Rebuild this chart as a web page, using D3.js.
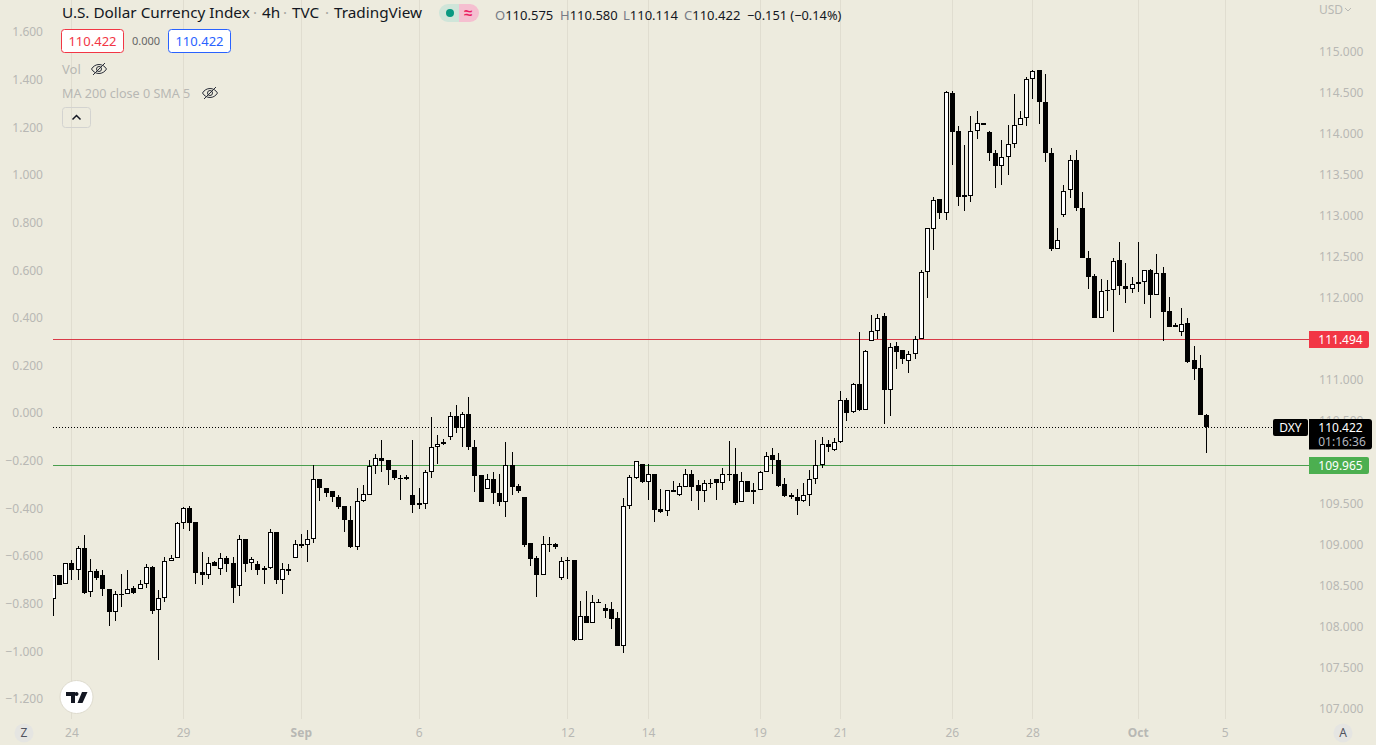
<!DOCTYPE html>
<html>
<head>
<meta charset="utf-8">
<script src="https://cdn.jsdelivr.net/npm/d3@7"></script>
<style>
    html, body { margin: 0; padding: 0; background: #edebde; overflow: hidden; }
    text { font-family: "Noto Sans", sans-serif; }
</style>
</head>
<body>
<div id="chart"></div>
<script>
// OHLC candles, 4h bars
var opens = [
    108.33,108.62,108.51,108.77,108.69,108.95,108.42,108.67,108.62,108.45,
    108.17,108.40,108.40,108.47,108.46,108.52,108.72,108.20,108.35,108.80,
    108.83,109.26,109.44,109.27,108.66,108.63,108.78,108.70,108.83,108.77,
    108.49,109.06,108.77,108.76,108.71,108.71,109.15,108.57,108.70,108.83,
    109.00,108.99,109.06,109.79,109.69,109.65,109.58,109.46,109.29,108.97,
    109.53,109.60,109.95,110.05,110.02,109.90,109.81,109.82,109.60,109.50,
    109.49,109.88,110.19,110.22,110.31,110.56,110.41,110.59,110.19,109.84,
    109.67,109.79,109.63,109.52,109.97,109.71,109.57,109.01,108.83,108.62,
    109.00,109.00,108.59,108.81,108.81,107.83,108.13,108.04,108.30,108.22,
    108.21,108.10,107.76,109.47,109.81,109.98,109.76,109.86,109.43,109.40,
    109.66,109.60,109.70,109.86,109.72,109.65,109.74,109.80,109.74,109.86,
    109.86,109.52,109.77,109.66,109.66,109.88,110.09,110.03,109.73,109.60,
    109.58,109.53,109.60,109.80,109.97,110.22,110.15,110.24,110.76,110.61,
    110.95,110.64,111.48,111.60,111.78,110.88,111.41,111.36,111.23,111.32,
    111.50,112.32,112.84,113.20,113.03,114.50,114.03,113.25,113.24,114.03,
    114.13,114.02,113.77,113.61,113.72,113.87,114.11,114.19,114.66,114.77,
    114.39,113.77,112.60,113.01,113.31,113.68,113.09,112.49,112.27,111.75,
    112.08,112.10,112.46,112.15,112.11,112.19,112.19,112.34,112.04,112.30,
    111.84,111.67,111.59,111.69,111.24,111.15,110.575
];
var highs = [
    108.62,108.62,108.77,108.81,108.98,109.11,108.82,108.70,108.69,108.46,
    108.43,108.64,108.69,108.49,108.57,108.76,108.73,108.44,108.84,108.87,
    109.27,109.45,109.47,109.27,108.91,108.85,108.79,108.89,108.86,108.84,
    109.11,109.06,108.84,108.79,108.74,109.19,109.15,108.77,108.76,109.05,
    109.13,109.17,109.97,109.79,109.69,109.65,109.60,109.46,109.46,109.69,
    109.72,110.03,110.10,110.27,110.03,109.91,109.84,109.84,110.27,109.68,
    109.90,110.55,110.33,110.28,110.61,110.70,110.61,110.79,110.27,109.84,
    109.86,109.88,109.86,110.24,110.12,109.73,109.57,109.02,108.86,109.10,
    109.09,109.02,108.85,108.84,108.81,108.31,108.43,108.38,108.33,108.27,
    108.30,108.18,109.56,109.84,110.01,109.98,109.98,109.86,109.67,109.66,
    109.77,109.75,109.92,109.91,109.78,109.78,109.79,109.80,109.93,110.26,
    110.17,109.88,109.77,109.75,109.89,110.12,110.17,110.11,109.81,109.62,
    109.67,109.74,109.90,110.27,110.30,110.27,110.29,110.86,110.78,110.96,
    111.58,111.37,111.79,111.80,111.81,111.45,111.46,111.36,111.35,111.53,
    112.34,112.85,113.23,113.20,114.52,114.52,114.09,113.86,114.22,114.28,
    114.13,114.03,113.80,113.92,114.10,114.48,114.27,114.69,114.77,114.78,
    114.73,113.82,112.85,113.37,113.74,113.80,113.29,112.57,112.29,112.23,
    112.22,112.49,112.68,112.42,112.25,112.68,112.34,112.35,112.54,112.37,
    112.01,111.69,111.88,111.75,111.42,111.31,110.58
];
var lows = [
    108.13,108.50,108.51,108.57,108.56,108.40,108.36,108.57,108.37,108.00,
    108.07,108.24,108.40,108.40,108.46,108.47,108.15,107.59,108.30,108.79,
    108.83,109.19,109.16,108.51,108.50,108.58,108.74,108.63,108.66,108.29,
    108.37,108.66,108.69,108.63,108.52,108.70,108.52,108.39,108.63,108.83,
    108.96,108.78,109.02,109.53,109.58,109.51,109.43,109.15,108.95,108.93,
    109.51,109.60,109.86,109.88,109.72,109.78,109.54,109.78,109.38,109.43,
    109.43,109.81,109.98,110.21,110.27,110.35,110.18,110.15,109.64,109.52,
    109.67,109.49,109.47,109.33,109.60,109.63,108.97,108.74,108.36,108.62,
    108.90,108.94,108.56,108.58,107.82,107.83,108.04,108.04,108.28,108.10,
    107.97,107.76,107.68,109.43,109.80,109.74,109.54,109.27,109.38,109.34,
    109.64,109.59,109.70,109.53,109.42,109.51,109.68,109.54,109.66,109.77,
    109.48,109.52,109.64,109.49,109.66,109.88,109.85,109.70,109.58,109.55,
    109.36,109.52,109.46,109.73,109.93,110.12,110.14,110.23,110.50,110.60,
    110.62,110.63,111.47,111.50,110.46,110.56,111.13,111.20,111.08,111.26,
    111.50,112.00,112.58,112.96,112.95,113.62,113.12,113.06,113.17,113.93,
    114.10,113.67,113.34,113.37,113.50,113.82,114.11,114.09,114.42,114.12,
    113.66,112.57,112.60,112.99,113.22,113.06,112.49,112.11,111.76,111.75,
    111.84,111.59,112.04,111.94,112.06,112.07,111.92,111.76,112.04,111.48,
    111.64,111.64,111.54,111.21,111.00,110.57,110.114
];
var closes = [
    108.62,108.50,108.77,108.69,108.95,108.41,108.67,108.59,108.45,108.17,
    108.40,108.40,108.46,108.41,108.52,108.72,108.19,108.34,108.80,108.83,
    109.26,109.44,109.26,108.65,108.63,108.77,108.74,108.83,108.76,108.47,
    109.07,108.76,108.82,108.69,108.69,109.15,108.56,108.70,108.68,109.00,
    108.98,109.06,109.79,109.69,109.63,109.57,109.45,109.29,108.97,109.53,
    109.61,109.95,110.05,110.01,109.90,109.81,109.80,109.79,109.48,109.48,
    109.88,110.19,110.22,110.25,110.56,110.41,110.58,110.19,109.83,109.52,
    109.79,109.63,109.51,109.97,109.70,109.65,108.99,108.82,108.62,109.00,
    109.00,108.97,108.79,108.79,107.84,108.13,108.04,108.30,108.30,108.19,
    108.09,107.76,109.47,109.82,110.01,109.76,109.85,109.42,109.39,109.66,
    109.64,109.71,109.86,109.70,109.65,109.74,109.74,109.74,109.86,109.86,
    109.50,109.77,109.64,109.64,109.88,110.08,110.03,109.71,109.59,109.58,
    109.53,109.60,109.79,109.97,110.22,110.18,110.24,110.76,110.60,110.95,
    110.63,111.35,111.60,111.76,110.88,111.40,111.34,111.26,111.32,111.50,
    112.32,112.85,113.19,113.03,114.51,114.02,113.23,113.23,114.03,114.13,
    114.10,113.77,113.61,113.72,113.87,114.11,114.19,114.66,114.76,114.39,
    113.76,112.60,112.71,113.30,113.68,113.09,112.49,112.25,111.76,112.08,
    112.10,112.45,112.15,112.11,112.17,112.17,112.34,112.04,112.30,111.83,
    111.64,111.65,111.68,111.22,111.14,110.57,110.422
];

// axis ticks (110.000 sits fully behind the green tag, so it is left out)
var priceTicks = [115,114.5,114,113.5,113,112.5,112,111.5,111,110.5,109.5,109,108.5,108,107.5,107];
var percentTicks = [1.6,1.4,1.2,1,0.8,0.6,0.4,0.2,0,-0.2,-0.4,-0.6,-0.8,-1,-1.2];
var timeLabels = ['24','29','Sep','6','12','14','19','21','26','28','Oct','5'];
var timeBars = [3,21,40,59,83,96,114,127,145,158,175,189];

// levels
var upperLevel = 111.494, lowerLevel = 109.965, lastPrice = 110.422;

var width = 1376, height = 745;
var upColor = '#ffffff', downColor = '#000000', gridColor = '#e0ddd0', axisText = '#b8b8b4';
var redColor = '#f23645', greenColor = '#4caf50', blueColor = '#2962ff';

var svg = d3.select('#chart')
    .append('svg')
    .attr('width', width)
    .attr('height', height)
    .style('display', 'block');

// Define scales
var x = d3.scaleLinear().domain([0, 186]).range([53.3, 1206.5]);
var y = d3.scaleLinear().domain([115, 107]).range([51.5, 708.5]);
var yPct = d3.scaleLinear().domain([1.6, -1.2]).range([32, 699]);

function snap(v) { return Math.floor(v) + 0.5; }
function levelY(v) { return snap(y(v) + 0.3); }

// Vertical grid
svg.selectAll('.grid')
    .data(timeBars)
    .enter().append('line')
    .attr('class', 'grid')
    .attr('x1', function(d) { return snap(x(d)); })
    .attr('x2', function(d) { return snap(x(d)); })
    .attr('y1', 0)
    .attr('y2', 719)
    .attr('stroke', gridColor);

// Level lines
svg.append('line').attr('x1', 53).attr('x2', 1309)
    .attr('y1', levelY(upperLevel)).attr('y2', levelY(upperLevel))
    .attr('stroke', '#d93a48');
svg.append('line').attr('x1', 53).attr('x2', 1309)
    .attr('y1', levelY(lowerLevel)).attr('y2', levelY(lowerLevel))
    .attr('stroke', '#4a9e4e');
svg.append('line').attr('x1', 53).attr('x2', 1273)
    .attr('y1', levelY(lastPrice)).attr('y2', levelY(lastPrice))
    .attr('stroke', '#000').attr('stroke-dasharray', '1 2');

// Candles
svg.append('clipPath').attr('id', 'plot').append('rect')
    .attr('x', 53).attr('y', 0).attr('width', 1256).attr('height', 719);

function bodyTop(i) { return Math.round(y(Math.max(opens[i], closes[i]))); }
function bodyHeight(i) { return Math.max(1, Math.round(y(Math.min(opens[i], closes[i]))) - bodyTop(i)); }

var candles = svg.append('g').attr('clip-path', 'url(#plot)')
    .selectAll('g')
    .data(d3.range(opens.length))
    .enter().append('g');

candles.append('line')
    .attr('x1', function(i) { return snap(x(i)); })
    .attr('x2', function(i) { return snap(x(i)); })
    .attr('y1', function(i) { return Math.round(y(highs[i])); })
    .attr('y2', function(i) { return Math.round(y(lows[i])); })
    .attr('stroke', downColor);

candles.append('rect')
    .attr('x', function(i) { return snap(x(i)) - 2.5; })
    .attr('width', 5)
    .attr('y', bodyTop)
    .attr('height', bodyHeight)
    .attr('fill', downColor);

// hollow middle for the up candles
candles.filter(function(i) { return closes[i] > opens[i] && bodyHeight(i) > 2; })
    .append('rect')
    .attr('x', function(i) { return snap(x(i)) - 1.5; })
    .attr('width', 3)
    .attr('y', function(i) { return bodyTop(i) + 1; })
    .attr('height', function(i) { return bodyHeight(i) - 2; })
    .attr('fill', upColor);

// Price axis on the right, percent axis on the left
var priceAxis = svg.append('g')
    .attr('transform', 'translate(1319,0)')
    .call(d3.axisRight(y).tickValues(priceTicks).tickSize(0).tickPadding(0).tickFormat(d3.format('.3f')));
var pctAxis = svg.append('g')
    .attr('transform', 'translate(43,0)')
    .call(d3.axisLeft(yPct).tickValues(percentTicks).tickSize(0).tickPadding(0).tickFormat(d3.format('.3f')));
[priceAxis, pctAxis].forEach(function(a) {
    a.select('.domain').remove();
    a.selectAll('text').attr('font-family', '"Noto Sans", sans-serif').attr('font-size', 12).attr('fill', axisText);
});

svg.append('text').attr('x', 1319).attr('y', 14).attr('font-size', 12).attr('fill', axisText).text('USD');
svg.append('path').attr('d', 'M1345 8l3 3 3-3').attr('fill', 'none').attr('stroke', axisText);

// Time axis labels
svg.selectAll('.timeLabel')
    .data(timeLabels)
    .enter().append('text')
    .attr('class', 'timeLabel')
    .attr('x', function(d, i) { return x(timeBars[i]); })
    .attr('y', 737)
    .attr('text-anchor', 'middle')
    .attr('font-size', 12)
    .attr('font-weight', function(d) { return isNaN(+d) ? 700 : 400; })
    .attr('fill', axisText)
    .text(function(d) { return d; });

// Price tags
function tagPath(x0, y0, w, h, r) {
    return 'M' + x0 + ' ' + y0 + 'H' + (x0 + w - r) + 'Q' + (x0 + w) + ' ' + y0 + ' ' + (x0 + w) + ' ' + (y0 + r) +
        'V' + (y0 + h - r) + 'Q' + (x0 + w) + ' ' + (y0 + h) + ' ' + (x0 + w - r) + ' ' + (y0 + h) + 'H' + x0 + 'Z';
}
function priceTag(value, color) {
    var cy = Math.round(y(value));
    svg.append('path').attr('d', tagPath(1309, cy - 8, 60, 17, 2)).attr('fill', color);
    svg.append('text').attr('x', 1340.5).attr('y', cy + 5).attr('text-anchor', 'middle')
        .attr('font-size', 12).attr('fill', '#fff').text(d3.format('.3f')(value));
}
priceTag(upperLevel, redColor);
priceTag(lowerLevel, greenColor);

svg.append('rect').attr('x', 1273).attr('y', 419).attr('width', 35).attr('height', 17).attr('rx', 2).attr('fill', '#000');
svg.append('text').attr('x', 1290.5).attr('y', 432).attr('text-anchor', 'middle')
    .attr('font-size', 12).attr('fill', '#fff').text('DXY');
svg.append('path').attr('d', tagPath(1309, 419, 63, 30.5, 3)).attr('fill', '#000');
svg.append('text').attr('x', 1340.5).attr('y', 432).attr('text-anchor', 'middle')
    .attr('font-size', 12).attr('fill', '#fff').text(d3.format('.3f')(lastPrice));
svg.append('text').attr('x', 1342).attr('y', 446).attr('text-anchor', 'middle')
    .attr('font-size', 12).attr('fill', '#b2b5be').text('01:16:36');

// Legend
var titleParts = ['U.S. Dollar Currency Index', '4h', 'TVC', 'TradingView'];
var titleX = [62, 262, 292, 334];
titleParts.forEach(function(t, i) {
    svg.append('text').attr('x', titleX[i]).attr('y', 18).attr('font-size', 15.3).attr('fill', '#131722').text(t);
    if (i > 0) {
        svg.append('text').attr('x', titleX[i] - 7).attr('y', 18).attr('text-anchor', 'middle')
            .attr('font-size', 15).attr('fill', '#a5a59f').text('·');
    }
});

svg.append('path').attr('d', 'M459 4H448A9 9 0 0 0 448 22H459Z').attr('fill', '#cfe5d9');
svg.append('path').attr('d', 'M459 4H470A9 9 0 0 1 470 22H459Z').attr('fill', '#f5bfd0');
svg.append('circle').attr('cx', 450).attr('cy', 13).attr('r', 4).attr('fill', '#089981');
svg.append('text').attr('x', 468).attr('y', 18).attr('text-anchor', 'middle').attr('font-size', 15)
    .attr('font-weight', 700).attr('fill', '#e91e63').text('≈');

var ohlcLetters = ['O', 'H', 'L', 'C'];
var ohlcValues = ['110.575', '110.580', '110.114', '110.422'];
var ohlcX = [495, 560, 623, 684];
ohlcLetters.forEach(function(l, i) {
    var t = svg.append('text').attr('x', ohlcX[i]).attr('y', 19.5).attr('font-size', 13);
    t.append('tspan').attr('fill', '#787b86').text(l);
    t.append('tspan').attr('fill', '#131722').text(ohlcValues[i]);
});
svg.append('text').attr('x', 747).attr('y', 19.5).attr('font-size', 12.8).attr('fill', '#131722').text('−0.151 (−0.14%)');

function chip(x0, color) {
    svg.append('rect').attr('x', x0).attr('y', 29.5).attr('width', 62).attr('height', 23).attr('rx', 3)
        .attr('fill', '#fff').attr('stroke', color);
    svg.append('text').attr('x', x0 + 31).attr('y', 46).attr('text-anchor', 'middle')
        .attr('font-size', 13).attr('fill', color).text('110.422');
}
chip(61.5, redColor);
chip(168.5, blueColor);
svg.append('text').attr('x', 146).attr('y', 45).attr('text-anchor', 'middle')
    .attr('font-size', 11).attr('fill', '#666').text('0.000');

svg.append('text').attr('x', 62).attr('y', 74).attr('font-size', 13).attr('fill', axisText).text('Vol');
svg.append('text').attr('x', 62).attr('y', 98).attr('font-size', 12.6).attr('fill', axisText).text('MA 200 close 0 SMA 5');

function eye(cx, cy) {
    var g = svg.append('g').attr('transform', 'translate(' + cx + ',' + cy + ')')
        .attr('fill', 'none').attr('stroke', '#2a2e39');
    g.append('path').attr('d', 'M-7.5 0C-4 -6 4 -6 7.5 0C4 6 -4 6 -7.5 0Z');
    g.append('circle').attr('r', 2.5);
    g.append('path').attr('d', 'M-6 6L6 -6');
}
eye(99, 69);
eye(210, 93);

svg.append('rect').attr('x', 62.5).attr('y', 107.5).attr('width', 28).attr('height', 20).attr('rx', 3)
    .attr('fill', 'none').attr('stroke', '#d3d3d0');
svg.append('path').attr('d', 'M72.5 119.5l4-4 4 4').attr('fill', 'none').attr('stroke', '#131722').attr('stroke-width', 1.5);

// Logo and corner buttons
svg.append('circle').attr('cx', 76.5).attr('cy', 697).attr('r', 16.5).attr('fill', '#fff').attr('stroke', '#dedbce');
svg.append('path').attr('transform', 'translate(66,692)').attr('fill', '#131722')
    .attr('d', 'M0 0H9V11H5V4H0ZM10.5 0A2 2 0 1 1 10.49 0ZM16 0H21.5L16.5 11H11.5Z');

svg.append('circle').attr('cx', 24).attr('cy', 733).attr('r', 9.5).attr('fill', '#e5e5e2');
svg.append('text').attr('x', 24).attr('y', 737).attr('text-anchor', 'middle').attr('font-size', 12).attr('fill', '#50535e').text('Z');
svg.append('circle').attr('cx', 1343).attr('cy', 733).attr('r', 9.5).attr('fill', '#e5e5e2');
svg.append('text').attr('x', 1343).attr('y', 737).attr('text-anchor', 'middle').attr('font-size', 12).attr('fill', '#50535e').text('A');
</script>
</body>
</html>
